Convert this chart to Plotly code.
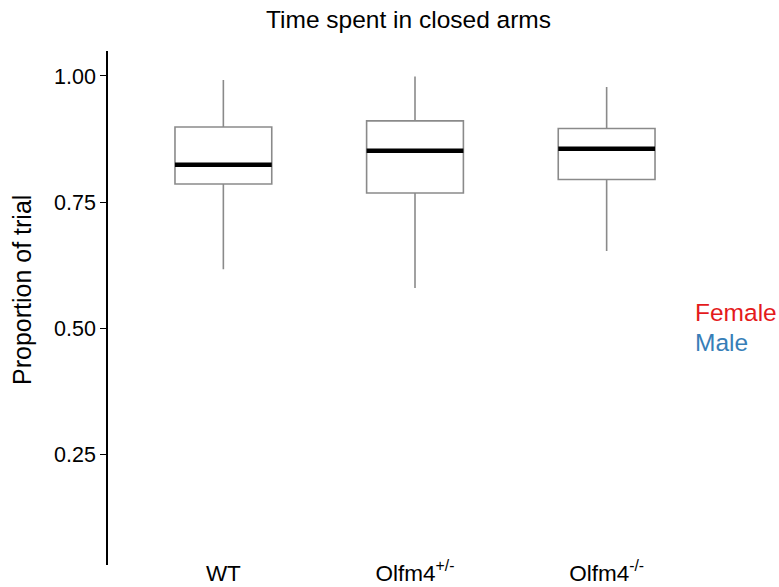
import plotly.graph_objects as go

# Data
categories = ["WT", "Olfm4<sup>+/-</sup>", "Olfm4<sup>-/-</sup>"]
upper_whisker = [0.992, 0.999, 0.978]
q3_values = [0.899, 0.911, 0.896]
median_values = [0.824, 0.852, 0.856]
q1_values = [0.786, 0.768, 0.795]
lower_whisker = [0.617, 0.580, 0.653]
legend_labels = ["Female", "Male"]
legend_colors = ["#E41A1C", "#377EB8"]
y_ticks = [0.25, 0.50, 0.75, 1.00]
y_tick_text = ["0.25", "0.50", "0.75", "1.00"]

FONT = "Liberation Sans, Arial, Helvetica, sans-serif"
W, H = 779, 587
L, R, T, B = 108, 57, 51, 22
plot_h = H - T - B
plot_w = W - L - R

fig = go.Figure()
fig.add_trace(go.Box(
    x=categories, q1=q1_values, median=median_values, q3=q3_values,
    lowerfence=lower_whisker, upperfence=upper_whisker,
    width=0.505, whiskerwidth=0,
    line=dict(color="#8a8a8a", width=1.6), fillcolor="white",
    boxpoints=False, showlegend=False, hoverinfo="skip",
))
# thick black median bars drawn as degenerate boxes
fig.add_trace(go.Box(
    x=categories, q1=median_values, median=median_values, q3=median_values,
    lowerfence=median_values, upperfence=median_values,
    width=0.505, whiskerwidth=0,
    line=dict(color="black", width=4.5), fillcolor="rgba(0,0,0,0)",
    boxpoints=False, showlegend=False, hoverinfo="skip",
))

fig.update_layout(
    width=W, height=H,
    margin=dict(l=L, r=R, t=T, b=B, pad=0, autoexpand=False),
    paper_bgcolor="white", plot_bgcolor="white",
    font=dict(family=FONT, size=22, color="black"),
    boxmode="overlay",
    showlegend=False,
    title=dict(text="Time spent in closed arms", xref="container", yref="container",
               x=408.5 / W, y=1 - 19 / H, xanchor="center", yanchor="middle",
               font=dict(family=FONT, size=24.5, color="black")),
    xaxis=dict(range=[-0.602, 2.602], showgrid=False, zeroline=False, showline=False,
               ticks="", tickfont=dict(family=FONT, size=22.5, color="black"),
               ticklabelstandoff=-8, automargin=False),
    yaxis=dict(range=[0.031, 1.0495], showgrid=False, zeroline=False, showline=True,
               linecolor="black", linewidth=1.6, ticks="outside", ticklen=6,
               tickwidth=1.4, tickcolor="black", tickvals=y_ticks, ticktext=y_tick_text,
               tickfont=dict(family=FONT, size=21.5, color="black"), automargin=False),
)

fig.add_annotation(text="Proportion of trial", xref="paper", yref="paper",
                   x=(22 - L) / plot_w, y=(H - B - 290) / plot_h, textangle=-90,
                   xanchor="center", yanchor="middle", showarrow=False,
                   font=dict(family=FONT, size=25, color="black"))
for i, (lab, col) in enumerate(zip(legend_labels, legend_colors)):
    yc = 312 + 30 * i
    fig.add_annotation(text=lab, xref="paper", yref="paper",
                       x=(693 - L) / plot_w, y=(H - B - yc) / plot_h,
                       xanchor="left", yanchor="middle", showarrow=False,
                       font=dict(family=FONT, size=24.5, color=col))

fig.write_html("out.html")
